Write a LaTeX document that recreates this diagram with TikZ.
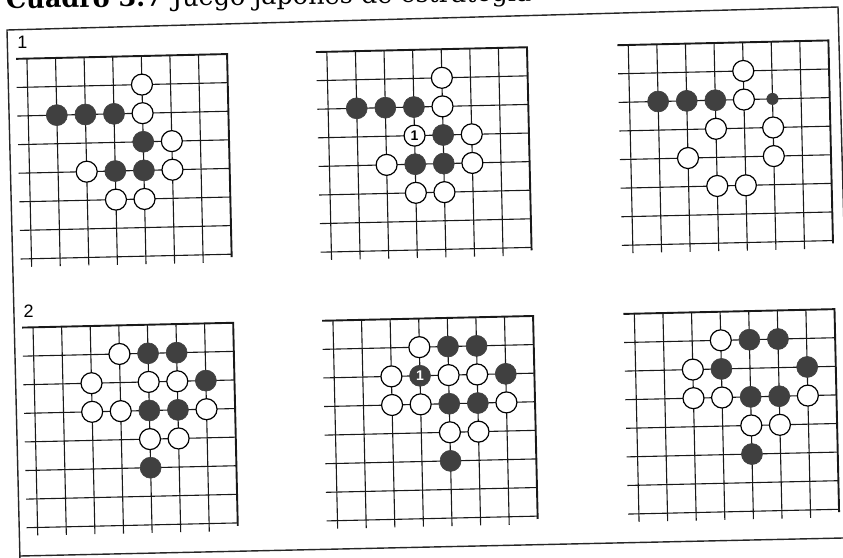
\documentclass[tikz,border=0pt]{standalone}
\usepackage{fontspec}
\newfontfamily\labelfont{Liberation Sans}
\newfontfamily\titlefont{DejaVu Serif}
\tikzset{
    gridline/.style={line width=1.1pt, black!90},
    edgeline/.style={line width=1.9pt, black!90},
    framel/.style={line width=1.4pt, black!85},
    stonew/.style={circle, draw=black, fill=white, line width=1.2pt, minimum size=21pt, inner sep=0pt},
    stoneb/.style={circle, draw=black!75, fill=black!75, line width=0.6pt, minimum size=21pt, inner sep=0pt},
    dotb/.style={circle, fill=black!75, minimum size=12pt, inner sep=0pt},
    boardlabel/.style={anchor=south west, inner sep=0pt, font=\labelfont\fontsize{18}{18}\selectfont},
    board/.style 2 args={shift={(#1,#2)}, x=28.6pt, y=-28.6pt},
}
% grid of one board, in board units
\newcommand{\gogrid}{%
    \foreach \k in {1,...,7}
        \draw[gridline] (-0.38,\k) -- (7,\k);
    \foreach \k in {0,...,6}
        \draw[gridline] (\k,0) -- (\k,7.28);
    \draw[edgeline] (-0.38,0) -- (7,0) -- (7,7.1);
}
\begin{document}
\begin{tikzpicture}[x=1pt, y=-1pt]
    \useasboundingbox (0,0) rectangle (843,557);
    % Title
    \node[anchor=base west, inner sep=0pt, rotate=0.8] (title) at (6,8.5)
        {\titlefont\fontsize{25.5}{27}\selectfont\textbf{Cuadro 3.7}\hspace{9pt}Juego japonés de estrategia};
    % Frame
    \draw[framel] (20,560) -- (7,30) -- (838,7) -- (853,560);
    \draw[framel] (20,556) -- (843,538);
    \begin{scope}[rotate around={1.3:(421.5,278.5)}]
    % Board 1
    \begin{scope}[board={32}{49.7}]
        \gogrid
        \node[boardlabel] (lab1) at (-0.33,-0.37) {1};
        \foreach \c/\r in {4/1,4/2,5/3,2/4,5/4,3/5,4/5}
            \node[stonew] (a-\c-\r) at (\c,\r) {};
        \foreach \c/\r in {1/2,2/2,3/2,4/3,3/4,4/4}
            \node[stoneb] (a-\c-\r) at (\c,\r) {};
    \end{scope}
    % Board 2
    \begin{scope}[board={332}{49.7}]
        \gogrid
        \foreach \c/\r in {4/1,4/2,5/3,2/4,5/4,3/5,4/5}
            \node[stonew] (b-\c-\r) at (\c,\r) {};
        \foreach \c/\r in {1/2,2/2,3/2,4/3,3/4,4/4}
            \node[stoneb] (b-\c-\r) at (\c,\r) {};
        \node[stonew, font=\labelfont\bfseries\fontsize{14}{14}\selectfont] (b-move) at (3,3) {1};
    \end{scope}
    % Board 3
    \begin{scope}[board={633.5}{49.7}]
        \gogrid
        \foreach \c/\r in {4/1,4/2,3/3,5/3,2/4,5/4,3/5,4/5}
            \node[stonew] (c-\c-\r) at (\c,\r) {};
        \foreach \c/\r in {1/2,2/2,3/2}
            \node[stoneb] (c-\c-\r) at (\c,\r) {};
        \node[dotb] (c-dot) at (5,2) {};
    \end{scope}
    % Board 4
    \begin{scope}[board={32}{318.5}]
        \gogrid
        \node[boardlabel] (lab2) at (-0.33,-0.33) {2};
        \foreach \c/\r in {3/1,2/2,4/2,5/2,2/3,3/3,6/3,4/4,5/4}
            \node[stonew] (d-\c-\r) at (\c,\r) {};
        \foreach \c/\r in {4/1,5/1,6/2,4/3,5/3,4/5}
            \node[stoneb] (d-\c-\r) at (\c,\r) {};
    \end{scope}
    % Board 5
    \begin{scope}[board={332}{318.5}]
        \gogrid
        \foreach \c/\r in {3/1,2/2,4/2,5/2,2/3,3/3,6/3,4/4,5/4}
            \node[stonew] (e-\c-\r) at (\c,\r) {};
        \foreach \c/\r in {4/1,5/1,6/2,4/3,5/3,4/5}
            \node[stoneb] (e-\c-\r) at (\c,\r) {};
        \node[stoneb, text=white, font=\labelfont\bfseries\fontsize{14}{14}\selectfont] (e-move) at (3,2) {1};
    \end{scope}
    % Board 6
    \begin{scope}[board={633.5}{318.5}]
        \gogrid
        \foreach \c/\r in {3/1,2/2,2/3,3/3,6/3,4/4,5/4}
            \node[stonew] (f-\c-\r) at (\c,\r) {};
        \foreach \c/\r in {4/1,5/1,3/2,6/2,4/3,5/3,4/5}
            \node[stoneb] (f-\c-\r) at (\c,\r) {};
    \end{scope}
    \end{scope}
\end{tikzpicture}
\end{document}
